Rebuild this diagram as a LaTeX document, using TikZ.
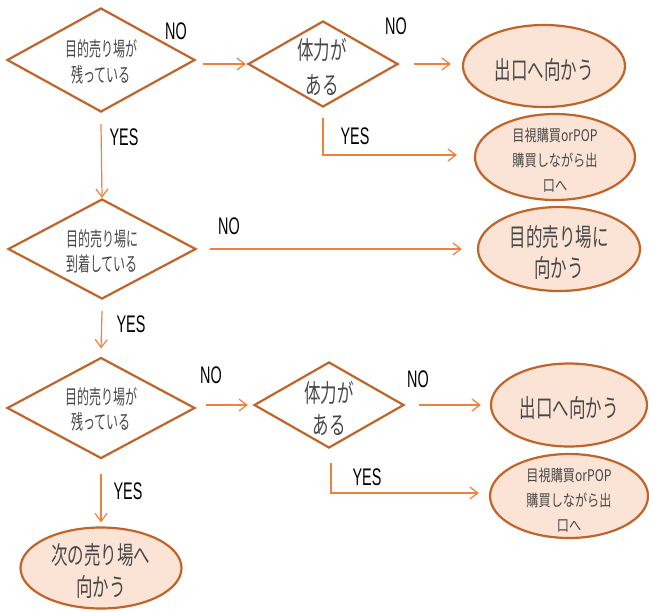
\documentclass[tikz,border=0pt]{standalone}
\usepackage{fontspec}
\usetikzlibrary{shapes.geometric,arrows.meta}
\newfontfamily\jps[FakeStretch=0.6]{Noto Sans CJK JP}
\newfontfamily\jp[FakeStretch=0.66]{Noto Sans CJK JP}
\newfontfamily\jpw[FakeStretch=0.76]{Noto Sans CJK JP}
\newfontfamily\lab[FakeStretch=0.6]{Liberation Sans}
\definecolor{edgebrown}{RGB}{192,100,42}
\definecolor{arrorange}{RGB}{241,128,60}
\definecolor{fillpeach}{RGB}{251,228,213}
\definecolor{txtgray}{RGB}{72,72,72}
\begin{document}
\begin{tikzpicture}[x=1pt,y=-1pt,
  bigdia/.style={draw=edgebrown,line width=2.2pt,shape=diamond,aspect=1.8,inner sep=0pt,minimum width=188pt,minimum height=104pt},
  smalldia/.style={draw=edgebrown,line width=2.2pt,shape=diamond,aspect=1.75,inner sep=0pt,minimum width=150pt,minimum height=86pt},
  oval/.style={draw=edgebrown,line width=2.2pt,fill=fillpeach,shape=ellipse,inner sep=0pt,minimum width=160pt,minimum height=83pt},
  stxt/.style={text=txtgray,align=center,inner sep=0pt,font=\jps\fontsize{20}{26}\selectfont},
  btxt/.style={text=txtgray,align=center,inner sep=0pt,font=\jp\fontsize{25}{33}\selectfont},
  wtxt/.style={text=txtgray,align=center,inner sep=0pt,font=\jpw\fontsize{16}{25}\selectfont},
  yn/.style={text=black,inner sep=0pt,font=\lab\fontsize{24}{26}\selectfont},
  arr/.style={draw=arrorange,line width=1.2pt,-{Straight Barb[length=8pt,width=12pt,line width=1.2pt]}}
]
\useasboundingbox (0,0) rectangle (649,611);

% row 1
\node[bigdia] (d1) at (101,60) {};
\node[stxt] (d1t) at (101,62) {目的売り場が\\残っている};
\node[smalldia] (d2) at (323,64) {};
\node[btxt,font=\jp\fontsize{25}{35}\selectfont] (d2t) at (322,67) {体力が\\ある};
\node[oval,minimum width=162pt,minimum height=82pt] (e1) at (544,66) {};
\node[btxt] (e1t) at (544,70) {出口へ向かう};
\node[oval,minimum width=160pt,minimum height=86pt] (e2) at (555,157) {};
\node[wtxt] (e2t) at (555,160) {目視購買orPOP\\購買しながら出\\口へ};

% row 2
\node[bigdia,minimum height=100pt] (d3) at (102,249) {};
\node[stxt,font=\jps\fontsize{20}{25}\selectfont] (d3t) at (102,251) {目的売り場に\\到着している};
\node[oval,minimum width=162pt,minimum height=84pt] (e3) at (559,249) {};
\node[btxt,font=\jp\fontsize{25}{31}\selectfont] (e3t) at (559,252) {目的売り場に\\向かう};

% row 3
\node[bigdia,minimum height=101pt] (d4) at (101,408) {};
\node[stxt,font=\jps\fontsize{20}{25}\selectfont] (d4t) at (101,409) {目的売り場が\\残っている};
\node[smalldia] (d5) at (329,405) {};
\node[btxt,font=\jp\fontsize{25}{32}\selectfont] (d5t) at (329,409) {体力が\\ある};
\node[oval,minimum width=156pt,minimum height=83pt] (e4) at (569,405) {};
\node[btxt] (e4t) at (569,408) {出口へ向かう};
\node[oval,minimum width=158pt,minimum height=84pt] (e6) at (569,496) {};
\node[wtxt] (e6t) at (569,500) {目視購買orPOP\\購買しながら出\\口へ};
\node[oval,minimum width=161pt,minimum height=81pt] (e5) at (101,568) {};
\node[btxt,font=\jp\fontsize{25}{32}\selectfont] (e5t) at (101,571) {次の売り場へ\\向かう};

% labels
\node[yn] (no1) at (176,31) {NO};
\node[yn] (yes1) at (124,137) {YES};
\node[yn] (no2) at (396,26) {NO};
\node[yn] (yes2) at (355,136) {YES};
\node[yn] (no3) at (229,226) {NO};
\node[yn] (yes3) at (131,324) {YES};
\node[yn] (no4) at (211,375) {NO};
\node[yn] (yes4) at (128,491) {YES};
\node[yn] (no5) at (418,379) {NO};
\node[yn] (yes5) at (367,477) {YES};

% connectors
\draw[arr] ([xshift=7pt]d1.east |- d2.west) -- ([xshift=-1pt]d2.west);
\draw[arr] ([xshift=15pt]d2.east) -- ([xshift=-11pt]e1.west |- d2.east);
\draw[arr] ([yshift=-10pt]d2.south) |- ([xshift=-17pt,yshift=2pt]e2.west);
\draw[arr] ([yshift=-11pt]d1.south) -- (d3.north);
\draw[arr] ([xshift=13pt]d3.east) -- ([xshift=-15pt]e3.west |- d3.east);
\draw[arr] ([yshift=-11pt]d3.south) -- ([yshift=8pt]d4.north);
\draw[arr] ([xshift=10pt]d4.east |- d5.west) -- ([xshift=-5pt]d5.west);
\draw[arr] ([xshift=14pt]d5.east) -- ([xshift=-9pt]e4.west |- d5.east);
\draw[arr] ([xshift=2pt,yshift=-14pt]d5.south) |- ([xshift=-10pt,yshift=3pt]e6.west);
\draw[arr] ([yshift=-14pt]d4.south) -- ([yshift=4pt]e5.north);
\end{tikzpicture}
\end{document}
